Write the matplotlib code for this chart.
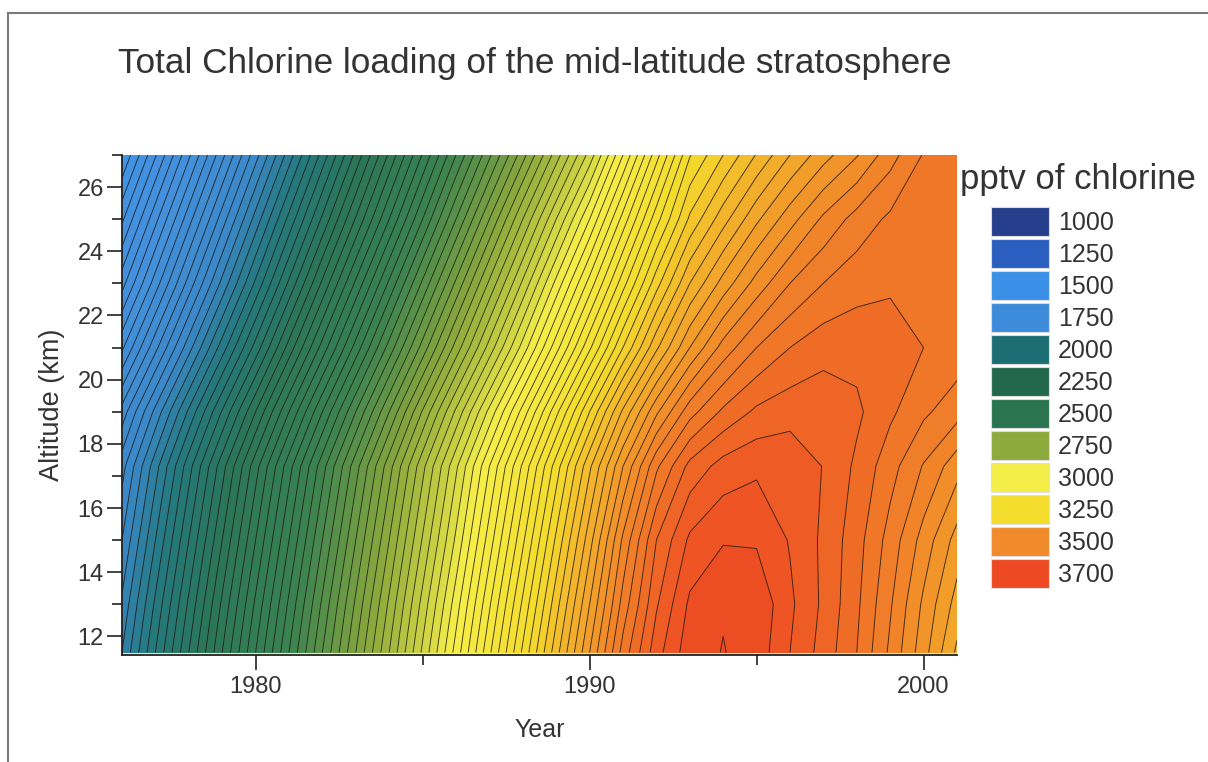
import numpy as np
import matplotlib.pyplot as plt
from matplotlib.colors import LinearSegmentedColormap, Normalize
from matplotlib.patches import Patch
from matplotlib.lines import Line2D
from matplotlib.ticker import MultipleLocator

plt.rcParams['font.family'] = ['Liberation Sans', 'DejaVu Sans']

# grid: year columns, altitude rows (km), pptv
years = [1976, 1978, 1980, 1982, 1984, 1986, 1988, 1990, 1991, 1992,
         1993, 1994, 1995, 1996, 1997, 1998, 1999, 2000, 2001]
altitudes = [11.5, 13, 15, 17.3, 19, 21, 23, 25, 27]

cl_11_5km = [2000, 2200, 2400, 2600, 2800, 3010, 3230, 3450, 3560, 3640,
             3690, 3701, 3690, 3650, 3615, 3575, 3520, 3460, 3395]
cl_13km = [1980, 2180, 2380, 2580, 2780, 2988, 3205, 3425, 3535, 3622,
           3680, 3698, 3695, 3655, 3620, 3580, 3528, 3470, 3415]
cl_15km = [1950, 2150, 2350, 2550, 2750, 2955, 3170, 3390, 3505, 3600,
           3655, 3673, 3672, 3648, 3620, 3585, 3540, 3490, 3440]
cl_17_3km = [1915, 2115, 2315, 2515, 2715, 2920, 3130, 3345, 3450, 3545,
             3608, 3635, 3645, 3643, 3624, 3595, 3560, 3523, 3485]
cl_19km = [1860, 2055, 2250, 2450, 2650, 2855, 3060, 3275, 3380, 3470,
           3540, 3580, 3605, 3615, 3618, 3605, 3580, 3555, 3535]
cl_21km = [1770, 1965, 2160, 2360, 2560, 2760, 2960, 3170, 3275, 3370,
           3450, 3510, 3550, 3575, 3590, 3592, 3585, 3575, 3566]
cl_23km = [1690, 1885, 2080, 2280, 2480, 2680, 2880, 3085, 3190, 3290,
           3375, 3435, 3485, 3525, 3550, 3565, 3572, 3574, 3572]
cl_25km = [1620, 1815, 2010, 2205, 2400, 2600, 2800, 3000, 3110, 3215,
           3305, 3365, 3420, 3465, 3505, 3535, 3555, 3565, 3568]
cl_27km = [1550, 1745, 1940, 2135, 2330, 2525, 2715, 2910, 3025, 3140,
           3248, 3300, 3352, 3400, 3440, 3473, 3515, 3552, 3560]

legend_values = [1000, 1250, 1500, 1750, 2000, 2250, 2500, 2750,
                 3000, 3250, 3500, 3700]
legend_colors = ['#263f8c', '#2b5fbf', '#3a8fe6', '#3d8bdb', '#1d6e74',
                 '#22684f', '#2a7550', '#8daa3c', '#f6ee48', '#f4dc2c',
                 '#f18a2a', '#ed4a23']

# colour ramp used for the filled field (a touch lighter than the swatches)
ramp_values = [1000, 1250, 1500, 1750, 1950, 2075, 2250, 2500, 2750,
               3000, 3250, 3500, 3700]
ramp_colors = ['#263f8c', '#2b5fbf', '#4094e6', '#4490dc', '#3a88c8', '#24787e',
               '#2b7658', '#3a8250', '#8daa3c', '#f6ee48', '#f4dc2c',
               '#f18a2a', '#ed4a23']

chlorine = np.array([cl_11_5km, cl_13km, cl_15km, cl_17_3km, cl_19km,
                     cl_21km, cl_23km, cl_25km, cl_27km])

vmin, vmax = ramp_values[0], ramp_values[-1]
stops = [(v - vmin) / (vmax - vmin) for v in ramp_values]
cmap = LinearSegmentedColormap.from_list('chlorine', list(zip(stops, ramp_colors)))
norm = Normalize(vmin, vmax)
levels = np.arange(1000, 3750, 25)

fig = plt.figure(figsize=(12.08, 7.62), dpi=100)
ax = fig.add_axes([0.101, 0.1404, 0.6912, 0.6562])
ax.set_facecolor('#eeeaa6')

ax.contourf(years, altitudes, chlorine, levels=levels, cmap=cmap, norm=norm)
ax.contour(years, altitudes, chlorine, levels=levels, colors='#1c1a16',
           linewidths=0.65, alpha=0.85)

ax.set_xlim(1976, 2001)
ax.set_ylim(11.42, 27)
ax.xaxis.set_major_locator(MultipleLocator(10))
ax.xaxis.set_minor_locator(MultipleLocator(5))
ax.yaxis.set_major_locator(MultipleLocator(2))
ax.yaxis.set_minor_locator(MultipleLocator(1))

for side in ['top', 'right']:
    ax.spines[side].set_visible(False)
for side in ['left', 'bottom']:
    ax.spines[side].set_linewidth(1.3)
    ax.spines[side].set_color('#222222')

ax.tick_params(which='major', direction='out', length=11, width=1.2,
               color='#222222', labelsize=17, labelcolor='#333333', pad=4)
ax.tick_params(which='minor', direction='out', length=7, width=1.2,
               color='#222222')
ax.tick_params(axis='y', which='major', pad=2)

ax.set_xlabel('Year', fontsize=18, color='#333333')
ax.set_ylabel('Altitude (km)', fontsize=19.5, color='#333333')
ax.xaxis.set_label_coords(0.5, -0.125)
ax.yaxis.set_label_coords(-0.068, 0.5)

fig.text(118 / 1208, 1 - 73 / 762, 'Total Chlorine loading of the mid-latitude stratosphere',
         fontsize=25.3, color='#333333', va='baseline', ha='left')

# legend of colour swatches
fig.text(960 / 1208, 1 - 189 / 762, 'pptv of chlorine', fontsize=25,
         color='#333333', va='baseline', ha='left')
handles = [Patch(facecolor=c, edgecolor='#dddddd', linewidth=0.8, label=str(v))
           for v, c in zip(legend_values, legend_colors)]
fig.legend(handles=handles, loc='upper left',
           bbox_to_anchor=(991 / 1208, 1 - 207 / 762), bbox_transform=fig.transFigure,
           frameon=False, fontsize=18, borderpad=0, borderaxespad=0,
           handlelength=2.32, handleheight=1.41, labelspacing=0.12,
           handletextpad=0.36, labelcolor='#333333')

# page frame
fig.add_artist(Line2D([8 / 1208, 1], [1 - 13 / 762, 1 - 13 / 762],
                      transform=fig.transFigure, color='#7a7a7a', linewidth=1.5))
fig.add_artist(Line2D([8 / 1208, 8 / 1208], [0, 1 - 13 / 762],
                      transform=fig.transFigure, color='#7a7a7a', linewidth=1.5))

fig.savefig('out.png', dpi=100)
